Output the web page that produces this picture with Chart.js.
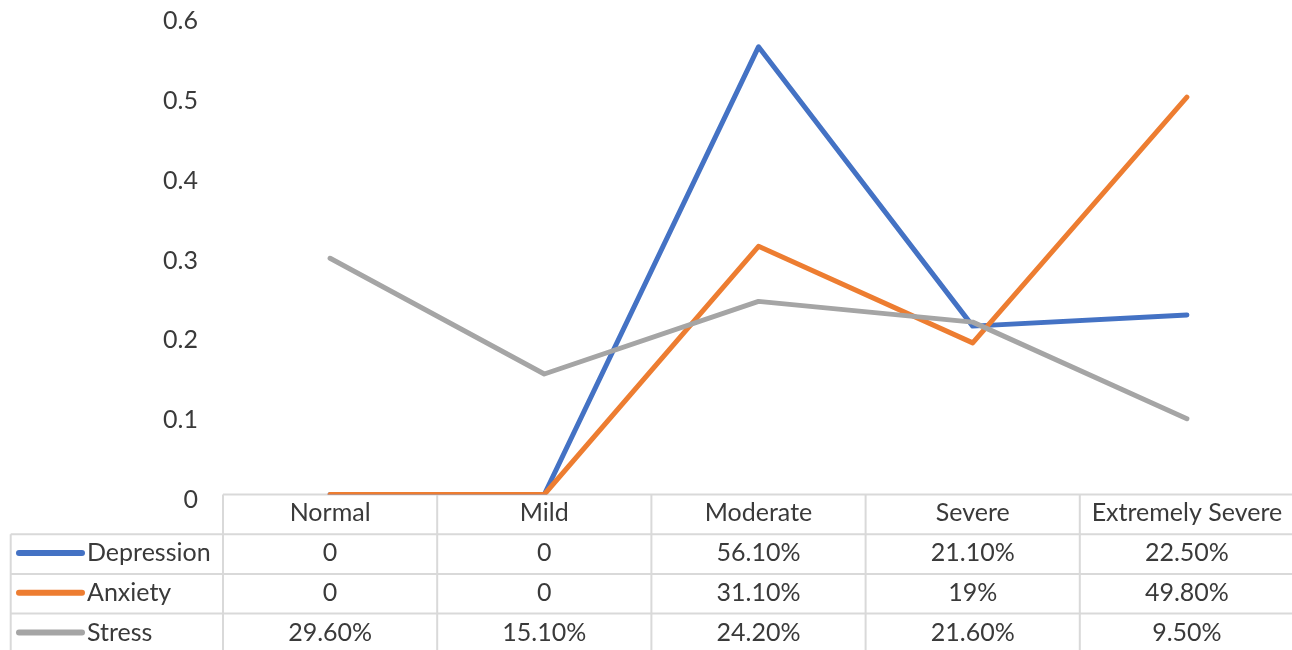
<!DOCTYPE html>
<html>
<head>
<meta charset="utf-8">
<script src="https://cdn.jsdelivr.net/npm/chart.js@4"></script>
<style>
  html, body { margin: 0; padding: 0; background: #fff; overflow: hidden; }
  #wrap { width: 1294px; height: 650px; }
</style>
</head>
<body>
<div id="wrap"><canvas id="chart" width="1294" height="650"></canvas></div>
<script>
// Severity levels (x categories)
const categories = ['Normal', 'Mild', 'Moderate', 'Severe', 'Extremely Severe'];

// Values per scale, written as they appear in the data table
const depressionText = ['0', '0', '56.10%', '21.10%', '22.50%'];
const anxietyText    = ['0', '0', '31.10%', '19%', '49.80%'];
const stressText     = ['29.60%', '15.10%', '24.20%', '21.60%', '9.50%'];

// Y axis range
const yMin = 0, yMax = 0.6, yStep = 0.1;

// "56.10%" -> 0.561, "0" -> 0
const toValue = s => s.trim().endsWith('%') ? parseFloat(s) / 100 : parseFloat(s);

const series = [
  { name: 'Depression', text: depressionText, color: '#4472C4' },
  { name: 'Anxiety',    text: anxietyText,    color: '#ED7D31' },
  { name: 'Stress',     text: stressText,     color: '#A5A5A5' }
];

const FONT = 'Lato, "Open Sans", sans-serif';
const FONT_SIZE = 25;
const TEXT_COLOR = '#3A3A3A';
const GRID_COLOR = '#D9D9D9';

// Data table under the plot: category header row plus one row per series with a legend key
const dataTable = {
  id: 'dataTable',
  beforeDatasetsDraw(chart) {
    const { ctx, chartArea, scales: { x } } = chart;
    const top = chartArea.bottom;
    const rowH = 39.7;
    const tableLeft = 10.7;
    const keyX0 = 19, keyX1 = 82, labelX = 87;
    const n = categories.length;

    const centers = categories.map((_, i) => x.getPixelForValue(i));
    const bounds = [chartArea.left];
    for (let i = 0; i < n - 1; i++) bounds.push((centers[i] + centers[i + 1]) / 2);
    bounds.push(chartArea.right);

    const bottom = top + rowH * (series.length + 1) + 20;

    ctx.save();
    ctx.strokeStyle = GRID_COLOR;
    ctx.lineWidth = 2;
    ctx.beginPath();
    // header top edge
    ctx.moveTo(chartArea.left, top); ctx.lineTo(chartArea.right, top);
    // row separators
    for (let r = 1; r <= series.length; r++) {
      const y = top + rowH * r;
      ctx.moveTo(tableLeft, y); ctx.lineTo(chartArea.right, y);
    }
    // column separators
    bounds.forEach(bx => { ctx.moveTo(bx, top); ctx.lineTo(bx, bottom); });
    // left edge of the series-name column
    ctx.moveTo(tableLeft, top + rowH); ctx.lineTo(tableLeft, bottom);
    ctx.stroke();

    ctx.font = FONT_SIZE + 'px ' + FONT;
    ctx.fillStyle = TEXT_COLOR;
    ctx.textBaseline = 'middle';

    // category headers
    ctx.textAlign = 'center';
    categories.forEach((c, i) => ctx.fillText(c, centers[i], top + rowH / 2 - 1));

    // series rows
    series.forEach((s, r) => {
      const cy = top + rowH * (r + 1) + rowH / 2 - 1;
      ctx.save();
      ctx.strokeStyle = s.color;
      ctx.lineWidth = 6;
      ctx.lineCap = 'round';
      ctx.beginPath();
      ctx.moveTo(keyX0, cy); ctx.lineTo(keyX1, cy);
      ctx.stroke();
      ctx.restore();

      ctx.textAlign = 'left';
      ctx.fillText(s.name, labelX, cy);
      ctx.textAlign = 'center';
      s.text.forEach((t, i) => ctx.fillText(t, centers[i], cy));
    });
    ctx.restore();
  }
};

new Chart(document.getElementById('chart'), {
  type: 'line',
  data: {
    labels: categories,
    datasets: series.map((s, i) => ({
      label: s.name,
      data: s.text.map(toValue),
      borderColor: s.color,
      backgroundColor: s.color,
      borderWidth: 5,
      borderJoinStyle: 'round',
      borderCapStyle: 'round',
      pointRadius: 0,
      tension: 0,
      fill: false,
      order: series.length - 1 - i
    }))
  },
  options: {
    responsive: false,
    animation: false,
    layout: { padding: { left: 0, right: 0, top: 15.7, bottom: 155.5 } },
    plugins: { legend: { display: false }, tooltip: { enabled: false } },
    scales: {
      x: {
        type: 'category',
        offset: true,
        display: false
      },
      y: {
        min: yMin,
        max: yMax,
        border: { display: false },
        grid: { display: false, drawTicks: false },
        afterFit(scale) {
          scale.width = 223;
          scale.paddingTop = 0;
          scale.paddingBottom = 0;
        },
        ticks: {
          stepSize: yStep,
          padding: 25,
          color: TEXT_COLOR,
          font: { family: FONT, size: FONT_SIZE, lineHeight: '11px' },
          // empty first line nudges the number slightly below its tick
          callback: v => ['', String(+v.toFixed(1))]
        }
      }
    }
  },
  plugins: [dataTable]
});
</script>
</body>
</html>
